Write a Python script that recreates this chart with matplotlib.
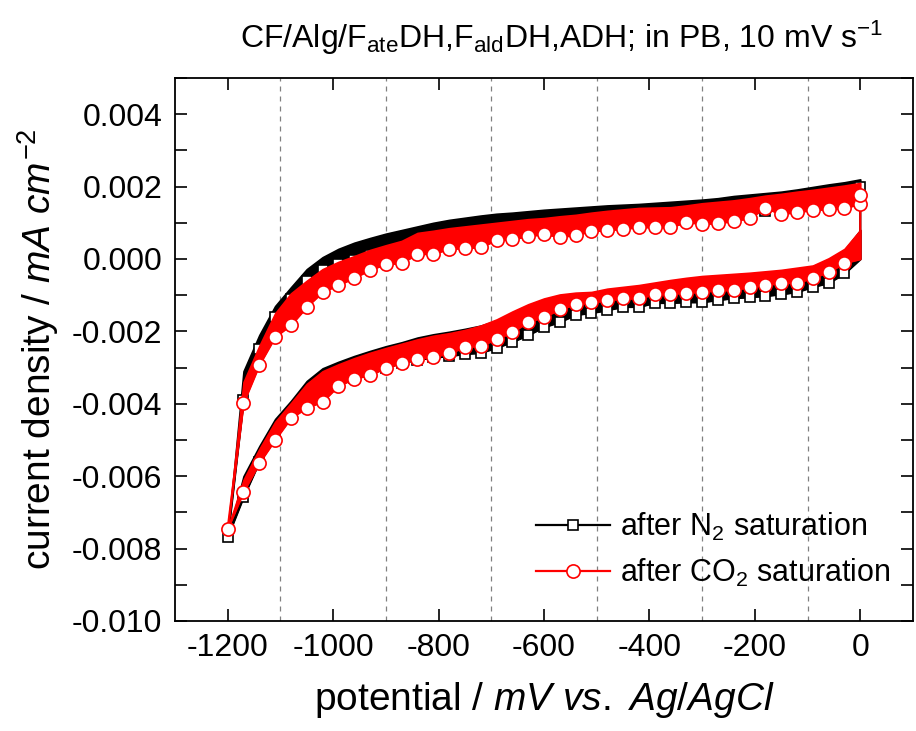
import matplotlib
matplotlib.use("Agg")
import matplotlib.pyplot as plt
from matplotlib.lines import Line2D
from matplotlib.ticker import MultipleLocator, FuncFormatter, FixedLocator

plt.rcParams['font.family'] = ['Liberation Sans', 'DejaVu Sans']
plt.rcParams['mathtext.fontset'] = 'custom'
plt.rcParams['mathtext.rm'] = 'Liberation Sans'
plt.rcParams['mathtext.it'] = 'Liberation Sans:italic'
plt.rcParams['axes.unicode_minus'] = False

# ---- cyclic voltammogram data (potential in mV vs Ag/AgCl, current density in mA cm^-2) ----
# anodic (upper) branch, swept from -1200 mV back to 0 mV
E_up = [-1200, -1170, -1140, -1110, -1080, -1050, -1020, -990, -960, -930,
        -900, -870, -840, -810, -780, -750, -720, -690, -660, -630,
        -600, -570, -540, -510, -480, -450, -420, -390, -360, -330,
        -300, -270, -240, -210, -180, -150, -120, -90, -60, -30, 0, 0]
# cathodic (lower) branch, swept from 0 mV down to -1200 mV
E_lo = [0, -30, -60, -90, -120, -150, -180, -210, -240, -270,
        -300, -330, -360, -390, -420, -450, -480, -510, -540, -570,
        -600, -630, -660, -690, -720, -750, -780, -810, -840, -870,
        -900, -930, -960, -990, -1020, -1050, -1080, -1110, -1140, -1170, -1200]

# after N2 saturation: sampled points and upper edge of the noise band
n2_up = [-0.00767, -0.0039, -0.0025, -0.0016, -0.0011, -0.0006, -0.00031, -0.00015, -0.00003, 0.0001,
         0.0002, 0.0003, 0.0004, 0.0005, 0.00058, 0.00065, 0.0007, 0.00075, 0.00078, 0.00082,
         0.00085, 0.00088, 0.0009, 0.00093, 0.00096, 0.00099, 0.00102, 0.00105, 0.00108, 0.00111,
         0.00114, 0.00118, 0.00122, 0.00127, 0.00132, 0.00137, 0.00143, 0.0015, 0.00157, 0.00165, 0.00175, 0.0020]
n2_up_top = [-0.00767, -0.0031, -0.0021, -0.0013, -0.00078, -0.00028, 0.00005, 0.00028, 0.00045, 0.00058,
             0.0007, 0.0008, 0.0009, 0.001, 0.00108, 0.00114, 0.0012, 0.00125, 0.00128, 0.00132,
             0.00136, 0.00139, 0.00142, 0.00145, 0.00148, 0.0015, 0.00152, 0.00155, 0.00158, 0.00161,
             0.00164, 0.00168, 0.00174, 0.00178, 0.00182, 0.00186, 0.00192, 0.00199, 0.00206, 0.00212, 0.0022, 0.0022]
n2_lo = [0.0, -0.0004, -0.00066, -0.00077, -0.00091, -0.00097, -0.00102, -0.00105, -0.00108, -0.00113,
         -0.00119, -0.00119, -0.00121, -0.00121, -0.00132, -0.00132, -0.00141, -0.00149, -0.00154, -0.00174,
         -0.00188, -0.0021, -0.00229, -0.00245, -0.00259, -0.00262, -0.00268, -0.00272, -0.00278, -0.00287,
         -0.003, -0.00318, -0.0033, -0.00348, -0.00385, -0.00405, -0.00435, -0.00495, -0.0056, -0.00657, -0.00767]
n2_lo_top = [0.0008, 0.00025, -0.00002, -0.0002, -0.00028, -0.00034, -0.00038, -0.00042, -0.00045, -0.00048,
             -0.00052, -0.00056, -0.00062, -0.0007, -0.00076, -0.00082, -0.00087, -0.00095, -0.00098, -0.00103,
             -0.00113, -0.0013, -0.0015, -0.0017, -0.00184, -0.00193, -0.00201, -0.00208, -0.00217, -0.0023,
             -0.00241, -0.00254, -0.00268, -0.00284, -0.00302, -0.00337, -0.00392, -0.00442, -0.00517, -0.006, -0.00767]

# after CO2 saturation: sampled points and upper edge of the noise band
co2_up = [-0.00745, -0.00397, -0.00292, -0.00215, -0.00182, -0.00132, -0.00091, -0.00072, -0.00052, -0.0003,
          -0.00014, -0.00011, 0.00014, 0.00014, 0.00028, 0.0003, 0.00033, 0.00052, 0.00055, 0.00063,
          0.00069, 0.00061, 0.00066, 0.00077, 0.0008, 0.00083, 0.00088, 0.00088, 0.00088, 0.00102,
          0.00097, 0.00099, 0.00105, 0.00113, 0.00141, 0.00124, 0.0013, 0.00135, 0.00138, 0.00141, 0.00152, 0.00177]
co2_up_top = [-0.00745, -0.0034, -0.0024, -0.0015, -0.00095, -0.0006, -0.00028, -0.00008, 0.00008, 0.00025,
              0.00038, 0.0005, 0.00072, 0.00078, 0.00085, 0.0009, 0.00095, 0.001, 0.00105, 0.0011,
              0.00113, 0.00118, 0.00122, 0.00128, 0.00133, 0.00137, 0.00141, 0.00142, 0.00143, 0.00148,
              0.00154, 0.00158, 0.00162, 0.00168, 0.00175, 0.0018, 0.00186, 0.00191, 0.00197, 0.00203, 0.0021, 0.0021]
co2_lo = [0.0, -0.00011, -0.00036, -0.00052, -0.00066, -0.00066, -0.00072, -0.00077, -0.00086, -0.00086,
          -0.00091, -0.00093, -0.00096, -0.00097, -0.00109, -0.00109, -0.00114, -0.0012, -0.00125, -0.00139,
          -0.0016, -0.00174, -0.00202, -0.00221, -0.0024, -0.00243, -0.00261, -0.0027, -0.00276, -0.00287,
          -0.00301, -0.0032, -0.00331, -0.0035, -0.00394, -0.00411, -0.00439, -0.00499, -0.00563, -0.00643, -0.00745]
co2_lo_top = [0.0008, 0.00028, 0.00002, -0.00018, -0.00024, -0.0003, -0.00034, -0.00038, -0.00041, -0.00044,
              -0.00047, -0.00052, -0.00058, -0.00065, -0.00072, -0.00077, -0.00082, -0.00091, -0.00093, -0.00098,
              -0.00109, -0.00125, -0.00145, -0.00167, -0.00184, -0.00196, -0.00205, -0.00212, -0.00222, -0.00234,
              -0.00246, -0.00259, -0.00274, -0.00291, -0.0031, -0.00345, -0.00398, -0.0045, -0.00525, -0.0061, -0.00745]

x_ticks = [-1200, -1000, -800, -600, -400, -200, 0]
x_grid = [-1100, -900, -700, -500, -300, -100]
y_ticks = [-0.010, -0.008, -0.006, -0.004, -0.002, 0.000, 0.002, 0.004]

labels = [r'after N$_2$ saturation', r'after CO$_2$ saturation']

fig = plt.figure(figsize=(9.16, 7.31), dpi=100)
ax = fig.add_axes([0.191, 0.1505, 0.8057, 0.7428])

ax.set_xlim(-1300, 100)
ax.set_ylim(-0.010, 0.005)

for xg in x_grid:
    ax.axvline(xg, color='#808080', lw=0.9, ls=(0, (4, 4)), zorder=0)


def draw_cycle(e_up, j_up, top_up, e_lo, j_lo, top_lo, color, marker, ms, z):
    ax.fill_between(e_up, j_up, top_up, color=color, lw=1.2, edgecolor=color, zorder=z)
    ax.fill_between(e_lo, j_lo, top_lo, color=color, lw=1.2, edgecolor=color, zorder=z)
    e = list(e_up) + list(e_lo)
    j = list(j_up) + list(j_lo)
    n_up = len(e_up)
    marks = [i for i in range(len(e)) if i != n_up and i != len(e) - 1]
    ax.plot(e, j, color=color, lw=1.6, marker=marker, ms=ms, mfc='white',
            mec=color, mew=1.2, markevery=marks, zorder=z + 0.5)


draw_cycle(E_up, n2_up, n2_up_top, E_lo, n2_lo, n2_lo_top, 'black', 's', 7.5, 2)
draw_cycle(E_up, co2_up, co2_up_top, E_lo, co2_lo, co2_lo_top, '#ff0000', 'o', 9.5, 4)

ax.xaxis.set_major_locator(FixedLocator(x_ticks))
ax.yaxis.set_major_locator(FixedLocator(y_ticks))
ax.yaxis.set_minor_locator(MultipleLocator(0.001))
ax.yaxis.set_major_formatter(FuncFormatter(lambda v, p: f'{v:.3f}'))
ax.xaxis.set_major_formatter(FuncFormatter(lambda v, p: f'{v:.0f}'))

ax.tick_params(which='both', direction='in', top=True, right=True,
               length=8.5, width=1.2, labelsize=23, pad=9)
for s in ax.spines.values():
    s.set_linewidth(1.3)

ax.set_xlabel(r'potential / $\mathit{mV\ vs.\ Ag/AgCl}$', fontsize=28, labelpad=12)
ax.set_ylabel(r'current density / $\mathit{mA\ cm}^{-2}$', fontsize=28, labelpad=8)

fig.text(0.613, 0.948, r'CF/Alg/F$_{\mathrm{ate}}$DH,F$_{\mathrm{ald}}$DH,ADH; in PB, 10 mV s$^{-1}$',
         fontsize=23, ha='center', va='center')

handles = [
    Line2D([], [], color='black', lw=1.6, marker='s', ms=7.5, mfc='white', mec='black', mew=1.2),
    Line2D([], [], color='#ff0000', lw=1.6, marker='o', ms=9.5, mfc='white', mec='#ff0000', mew=1.2),
]
ax.legend(handles, labels, loc='lower right', frameon=False, fontsize=22,
          handlelength=2.4, handletextpad=0.35, labelspacing=0.45,
          bbox_to_anchor=(0.995, 0.025), borderaxespad=0.2)

fig.savefig('out.png', dpi=100, facecolor='white')
